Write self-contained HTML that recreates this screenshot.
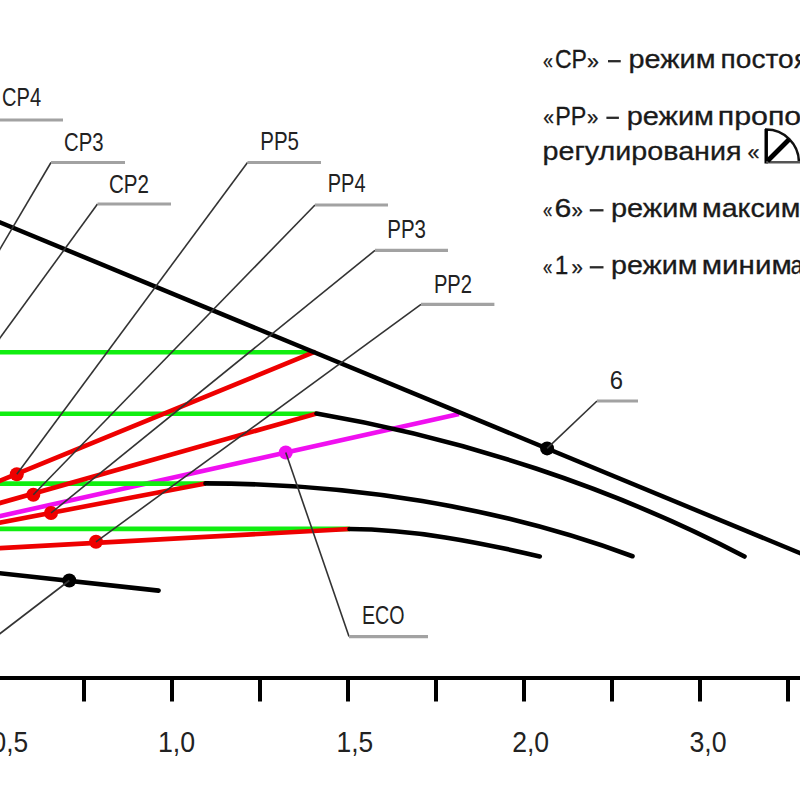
<!DOCTYPE html>
<html><head><meta charset="utf-8"><style>
html,body{margin:0;padding:0;background:#fff;width:800px;height:800px;overflow:hidden}
svg{display:block}
</style></head><body>
<svg width="800" height="800" viewBox="0 0 800 800">
<rect width="800" height="800" fill="#fff"/>
<line x1="-5" y1="517.2" x2="459" y2="414" stroke="#f010f0" stroke-width="4.6" stroke-linecap="butt"/>
<line x1="-5" y1="352.2" x2="314" y2="352.2" stroke="#10ee10" stroke-width="4.6" stroke-linecap="butt"/>
<line x1="-5" y1="413.7" x2="316.5" y2="413.7" stroke="#10ee10" stroke-width="4.6" stroke-linecap="butt"/>
<line x1="-5" y1="483.6" x2="205.5" y2="483.6" stroke="#10ee10" stroke-width="4.6" stroke-linecap="butt"/>
<line x1="-5" y1="528.9" x2="349.5" y2="528.9" stroke="#10ee10" stroke-width="4.6" stroke-linecap="butt"/>
<line x1="-5" y1="482.8" x2="314" y2="352.2" stroke="#ee0000" stroke-width="4.6" stroke-linecap="round"/>
<line x1="-5" y1="504.4" x2="316.5" y2="413.6" stroke="#ee0000" stroke-width="4.6" stroke-linecap="butt"/>
<line x1="-5" y1="523.5" x2="205.5" y2="483.5" stroke="#ee0000" stroke-width="4.6" stroke-linecap="butt"/>
<line x1="-5" y1="548.4" x2="349.5" y2="529.0" stroke="#ee0000" stroke-width="4.6" stroke-linecap="butt"/>
<path d="M316.5 413.6 C 462.6 438.5, 612.9 487.6, 744.5 556.5" fill="none" stroke="#000" stroke-width="4.6" stroke-linecap="round"/>
<path d="M205.5 483.4 C 349.6 483.6, 497.0 506.1, 632.5 556.25" fill="none" stroke="#000" stroke-width="4.6" stroke-linecap="round"/>
<path d="M349.5 529 C 412.3 529.1, 478.7 542.2, 539.75 556.4" fill="none" stroke="#000" stroke-width="4.6" stroke-linecap="round"/>
<line x1="-5" y1="220.3" x2="805" y2="555.2" stroke="#000" stroke-width="4.5" stroke-linecap="butt"/>
<line x1="-5" y1="572.7" x2="158.6" y2="590.6" stroke="#000" stroke-width="4.6" stroke-linecap="round"/>
<line x1="0" y1="678" x2="800" y2="678" stroke="#000" stroke-width="4" stroke-linecap="butt"/>
<line x1="84" y1="678" x2="84" y2="701.5" stroke="#000" stroke-width="4" stroke-linecap="butt"/>
<line x1="172" y1="678" x2="172" y2="701.5" stroke="#000" stroke-width="4" stroke-linecap="butt"/>
<line x1="260" y1="678" x2="260" y2="701.5" stroke="#000" stroke-width="4" stroke-linecap="butt"/>
<line x1="348" y1="678" x2="348" y2="701.5" stroke="#000" stroke-width="4" stroke-linecap="butt"/>
<line x1="436" y1="678" x2="436" y2="701.5" stroke="#000" stroke-width="4" stroke-linecap="butt"/>
<line x1="524" y1="678" x2="524" y2="701.5" stroke="#000" stroke-width="4" stroke-linecap="butt"/>
<line x1="612" y1="678" x2="612" y2="701.5" stroke="#000" stroke-width="4" stroke-linecap="butt"/>
<line x1="700" y1="678" x2="700" y2="701.5" stroke="#000" stroke-width="4" stroke-linecap="butt"/>
<line x1="788" y1="678" x2="788" y2="701.5" stroke="#000" stroke-width="4" stroke-linecap="butt"/>
<circle cx="16.8" cy="474.3" r="7" fill="#ee0000"/>
<circle cx="33.3" cy="494.7" r="7" fill="#ee0000"/>
<circle cx="51" cy="513" r="7" fill="#ee0000"/>
<circle cx="96" cy="541.8" r="7" fill="#ee0000"/>
<circle cx="285.75" cy="452.5" r="7" fill="#f010f0"/>
<circle cx="547.1" cy="448.4" r="7" fill="#000"/>
<circle cx="69.3" cy="580.5" r="7" fill="#000"/>
<polyline points="-10,266 51,162.5" fill="none" stroke="#333" stroke-width="1.6"/>
<line x1="51" y1="162.5" x2="125" y2="162.5" stroke="#a2a2a2" stroke-width="3.1" stroke-linecap="butt"/>
<polyline points="-10,351.7 97.5,204" fill="none" stroke="#333" stroke-width="1.6"/>
<line x1="97.5" y1="204" x2="171" y2="204" stroke="#a2a2a2" stroke-width="3.1" stroke-linecap="butt"/>
<line x1="-5" y1="120" x2="63" y2="120" stroke="#a2a2a2" stroke-width="3.1" stroke-linecap="butt"/>
<polyline points="16.8,474.3 247.5,162.5" fill="none" stroke="#333" stroke-width="1.6"/>
<line x1="247.5" y1="162.5" x2="321" y2="162.5" stroke="#a2a2a2" stroke-width="3.1" stroke-linecap="butt"/>
<polyline points="33.3,494.7 315,205" fill="none" stroke="#333" stroke-width="1.6"/>
<line x1="315" y1="205" x2="388" y2="205" stroke="#a2a2a2" stroke-width="3.1" stroke-linecap="butt"/>
<polyline points="51,513 375,250.4" fill="none" stroke="#333" stroke-width="1.6"/>
<line x1="375" y1="250.4" x2="448" y2="250.4" stroke="#a2a2a2" stroke-width="3.1" stroke-linecap="butt"/>
<polyline points="96,541.8 421,304.4" fill="none" stroke="#333" stroke-width="1.6"/>
<line x1="421" y1="304.4" x2="494.4" y2="304.4" stroke="#a2a2a2" stroke-width="3.1" stroke-linecap="butt"/>
<polyline points="547.1,448.4 597,401" fill="none" stroke="#333" stroke-width="1.6"/>
<line x1="597" y1="401" x2="638" y2="401" stroke="#a2a2a2" stroke-width="3.1" stroke-linecap="butt"/>
<polyline points="285.75,452.5 349,636.6" fill="none" stroke="#333" stroke-width="1.6"/>
<line x1="349" y1="636.6" x2="428" y2="636.6" stroke="#a2a2a2" stroke-width="3.1" stroke-linecap="butt"/>
<polyline points="69.3,580.5 -10,641.3" fill="none" stroke="#333" stroke-width="1.6"/>
<text x="2.02" y="105.5" font-family="&quot;Liberation Sans&quot;, sans-serif" font-size="25" fill="#222" textLength="39.06" lengthAdjust="spacingAndGlyphs">CP4</text>
<text x="64.01" y="150.5" font-family="&quot;Liberation Sans&quot;, sans-serif" font-size="25" fill="#222" textLength="39.47" lengthAdjust="spacingAndGlyphs">CP3</text>
<text x="109.0" y="192.7" font-family="&quot;Liberation Sans&quot;, sans-serif" font-size="25" fill="#222" textLength="40.0" lengthAdjust="spacingAndGlyphs">CP2</text>
<text x="260.26" y="150" font-family="&quot;Liberation Sans&quot;, sans-serif" font-size="25" fill="#222" textLength="38.71" lengthAdjust="spacingAndGlyphs">PP5</text>
<text x="327.8" y="192.3" font-family="&quot;Liberation Sans&quot;, sans-serif" font-size="25" fill="#222" textLength="37.77" lengthAdjust="spacingAndGlyphs">PP4</text>
<text x="387.26" y="238" font-family="&quot;Liberation Sans&quot;, sans-serif" font-size="25" fill="#222" textLength="38.71" lengthAdjust="spacingAndGlyphs">PP3</text>
<text x="433.89" y="292.7" font-family="&quot;Liberation Sans&quot;, sans-serif" font-size="25" fill="#222" textLength="38.06" lengthAdjust="spacingAndGlyphs">PP2</text>
<text x="609.81" y="389" font-family="&quot;Liberation Sans&quot;, sans-serif" font-size="25" fill="#222" textLength="13.25" lengthAdjust="spacingAndGlyphs">6</text>
<text x="361.9" y="624" font-family="&quot;Liberation Sans&quot;, sans-serif" font-size="25" fill="#222" textLength="42.55" lengthAdjust="spacingAndGlyphs">ECO</text>
<text x="157.96" y="752" font-family="&quot;Liberation Sans&quot;, sans-serif" font-size="29" fill="#222" textLength="37.16" lengthAdjust="spacingAndGlyphs">1,0</text>
<text x="336.49" y="752" font-family="&quot;Liberation Sans&quot;, sans-serif" font-size="29" fill="#222" textLength="36.61" lengthAdjust="spacingAndGlyphs">1,5</text>
<text x="512.21" y="752" font-family="&quot;Liberation Sans&quot;, sans-serif" font-size="29" fill="#222" textLength="36.9" lengthAdjust="spacingAndGlyphs">2,0</text>
<text x="689.39" y="752" font-family="&quot;Liberation Sans&quot;, sans-serif" font-size="29" fill="#222" textLength="37.13" lengthAdjust="spacingAndGlyphs">3,0</text>
<text x="543.01" y="68.5" font-family="&quot;Liberation Sans&quot;, sans-serif" font-size="22" fill="#1a1a1a" stroke="#1a1a1a" stroke-width="0.3" textLength="9.88" lengthAdjust="spacingAndGlyphs">«</text>
<text x="554.88" y="68" font-family="&quot;Liberation Sans&quot;, sans-serif" font-size="26" fill="#1a1a1a" stroke="#1a1a1a" stroke-width="0.3" textLength="32.0" lengthAdjust="spacingAndGlyphs">СР</text>
<text x="586.92" y="68.5" font-family="&quot;Liberation Sans&quot;, sans-serif" font-size="22" fill="#1a1a1a" stroke="#1a1a1a" stroke-width="0.3" textLength="11.98" lengthAdjust="spacingAndGlyphs">»</text>
<text x="628.51" y="68" font-family="&quot;Liberation Sans&quot;, sans-serif" font-size="26" fill="#1a1a1a" stroke="#1a1a1a" stroke-width="0.3" textLength="86.98" lengthAdjust="spacingAndGlyphs">режим</text>
<text x="720.57" y="68" font-family="&quot;Liberation Sans&quot;, sans-serif" font-size="26" fill="#1a1a1a" stroke="#1a1a1a" stroke-width="0.3" textLength="73.13" lengthAdjust="spacingAndGlyphs">посто</text>
<text x="794.11" y="68" font-family="&quot;Liberation Sans&quot;, sans-serif" font-size="26" fill="#1a1a1a" stroke="#1a1a1a" stroke-width="0.3" textLength="14.82" lengthAdjust="spacingAndGlyphs">я</text>
<text x="543.19" y="125" font-family="&quot;Liberation Sans&quot;, sans-serif" font-size="22" fill="#1a1a1a" stroke="#1a1a1a" stroke-width="0.3" textLength="10.78" lengthAdjust="spacingAndGlyphs">«</text>
<text x="555.13" y="124.6" font-family="&quot;Liberation Sans&quot;, sans-serif" font-size="26" fill="#1a1a1a" stroke="#1a1a1a" stroke-width="0.3" textLength="31.11" lengthAdjust="spacingAndGlyphs">РР</text>
<text x="586.98" y="125" font-family="&quot;Liberation Sans&quot;, sans-serif" font-size="22" fill="#1a1a1a" stroke="#1a1a1a" stroke-width="0.3" textLength="11.38" lengthAdjust="spacingAndGlyphs">»</text>
<text x="626.65" y="124.6" font-family="&quot;Liberation Sans&quot;, sans-serif" font-size="26" fill="#1a1a1a" stroke="#1a1a1a" stroke-width="0.3" textLength="87.34" lengthAdjust="spacingAndGlyphs">режим</text>
<text x="717.71" y="124.6" font-family="&quot;Liberation Sans&quot;, sans-serif" font-size="26" fill="#1a1a1a" stroke="#1a1a1a" stroke-width="0.3" textLength="83.54" lengthAdjust="spacingAndGlyphs">пропо</text>
<text x="542.51" y="159.5" font-family="&quot;Liberation Sans&quot;, sans-serif" font-size="26" fill="#1a1a1a" stroke="#1a1a1a" stroke-width="0.3" textLength="198.98" lengthAdjust="spacingAndGlyphs">регулирования</text>
<text x="747.6" y="160" font-family="&quot;Liberation Sans&quot;, sans-serif" font-size="22" fill="#1a1a1a" stroke="#1a1a1a" stroke-width="0.3" textLength="11.98" lengthAdjust="spacingAndGlyphs">«</text>
<text x="543.05" y="217.5" font-family="&quot;Liberation Sans&quot;, sans-serif" font-size="22" fill="#1a1a1a" stroke="#1a1a1a" stroke-width="0.3" textLength="9.28" lengthAdjust="spacingAndGlyphs">«</text>
<text x="554.48" y="217" font-family="&quot;Liberation Sans&quot;, sans-serif" font-size="26" fill="#1a1a1a" stroke="#1a1a1a" stroke-width="0.3" textLength="16.87" lengthAdjust="spacingAndGlyphs">6</text>
<text x="571.48" y="217.5" font-family="&quot;Liberation Sans&quot;, sans-serif" font-size="22" fill="#1a1a1a" stroke="#1a1a1a" stroke-width="0.3" textLength="11.38" lengthAdjust="spacingAndGlyphs">»</text>
<text x="611.01" y="217" font-family="&quot;Liberation Sans&quot;, sans-serif" font-size="26" fill="#1a1a1a" stroke="#1a1a1a" stroke-width="0.3" textLength="87.24" lengthAdjust="spacingAndGlyphs">режим</text>
<text x="702.03" y="217" font-family="&quot;Liberation Sans&quot;, sans-serif" font-size="26" fill="#1a1a1a" stroke="#1a1a1a" stroke-width="0.3" textLength="98.44" lengthAdjust="spacingAndGlyphs">максим</text>
<text x="543.05" y="274.5" font-family="&quot;Liberation Sans&quot;, sans-serif" font-size="22" fill="#1a1a1a" stroke="#1a1a1a" stroke-width="0.3" textLength="9.28" lengthAdjust="spacingAndGlyphs">«</text>
<text x="554.67" y="274" font-family="&quot;Liberation Sans&quot;, sans-serif" font-size="26" fill="#1a1a1a" stroke="#1a1a1a" stroke-width="0.3" textLength="13.55" lengthAdjust="spacingAndGlyphs">1</text>
<text x="571.48" y="274.5" font-family="&quot;Liberation Sans&quot;, sans-serif" font-size="22" fill="#1a1a1a" stroke="#1a1a1a" stroke-width="0.3" textLength="11.38" lengthAdjust="spacingAndGlyphs">»</text>
<text x="611.02" y="274" font-family="&quot;Liberation Sans&quot;, sans-serif" font-size="26" fill="#1a1a1a" stroke="#1a1a1a" stroke-width="0.3" textLength="86.46" lengthAdjust="spacingAndGlyphs">режим</text>
<text x="701.75" y="274" font-family="&quot;Liberation Sans&quot;, sans-serif" font-size="26" fill="#1a1a1a" stroke="#1a1a1a" stroke-width="0.3" textLength="90.0" lengthAdjust="spacingAndGlyphs">миним</text>
<text x="790.84" y="274" font-family="&quot;Liberation Sans&quot;, sans-serif" font-size="26" fill="#1a1a1a" stroke="#1a1a1a" stroke-width="0.3" textLength="12.16" lengthAdjust="spacingAndGlyphs">а</text>
<text x="-8.51" y="752" font-family="&quot;Liberation Sans&quot;, sans-serif" font-size="29" fill="#222" textLength="36.61" lengthAdjust="spacingAndGlyphs">0,5</text>
<rect x="608" y="60.050000000000004" width="12.75" height="2.3" fill="#2a2a2a"/>
<rect x="606.4" y="116.64999999999999" width="12.5" height="2.3" fill="#2a2a2a"/>
<rect x="589.75" y="209.15" width="13.75" height="2.3" fill="#2a2a2a"/>
<rect x="589.75" y="266.15000000000003" width="13.75" height="2.3" fill="#2a2a2a"/>
<path d="M766.2 162.2 V129.5 A32.7 32.7 0 0 1 798.9 162.2" fill="none" stroke="#111" stroke-width="2.4"/>
<line x1="766.2" y1="129" x2="766.2" y2="163.5" stroke="#000" stroke-width="3.4" stroke-linecap="butt"/>
<line x1="766.2" y1="162.2" x2="800" y2="162.2" stroke="#555" stroke-width="2.4" stroke-linecap="butt"/>
<line x1="767.5" y1="161" x2="789" y2="139.5" stroke="#000" stroke-width="4.8" stroke-linecap="butt"/>
</svg>
</body></html>
